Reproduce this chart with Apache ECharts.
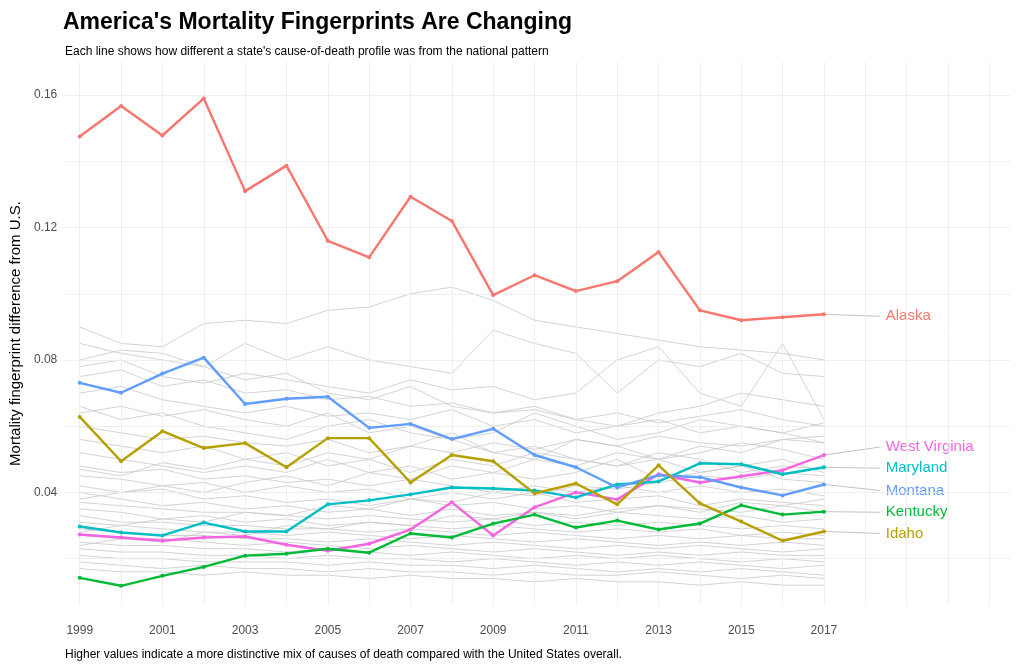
<!DOCTYPE html>
<html><head><meta charset="utf-8">
<script src="https://cdn.jsdelivr.net/npm/echarts@6/dist/echarts.min.js"></script>
<style>html,body{margin:0;background:#fff}#c{width:1024px;height:666px}</style>
</head><body><div id="c"></div>
<script>
const years = [1999,2000,2001,2002,2003,2004,2005,2006,2007,2008,2009,2010,2011,2012,2013,2014,2015,2016,2017]
const highlight = ["Alaska","West Virginia","Maryland","Montana","Kentucky","Idaho"]
const colors = {"Alaska":"#F8766D","Idaho":"#B79F00","Kentucky":"#00BA38","Maryland":"#00BFC4","Montana":"#619CFF","West Virginia":"#F564E3"}
const alaska = [0.1475,0.1567,0.1478,0.159,0.131,0.1387,0.116,0.111,0.1293,0.122,0.0996,0.1056,0.1008,0.1038,0.1126,0.095,0.092,0.0929,0.0938]
const montana = [0.0731,0.0701,0.0759,0.0807,0.0667,0.0683,0.0689,0.0595,0.0607,0.0561,0.0592,0.0513,0.0476,0.0415,0.0452,0.0446,0.0415,0.0391,0.0424]
const idaho = [0.0628,0.0494,0.0585,0.0534,0.0549,0.0476,0.0564,0.0564,0.043,0.0513,0.0494,0.0397,0.0427,0.0364,0.0482,0.0367,0.0312,0.0254,0.0282]
const maryland = [0.0297,0.0279,0.027,0.0309,0.0282,0.0282,0.0364,0.0376,0.0394,0.0415,0.0412,0.0406,0.0385,0.0424,0.0433,0.0488,0.0485,0.0455,0.0476]
const westVirginia = [0.0273,0.0264,0.0254,0.0264,0.0267,0.0242,0.0224,0.0245,0.0288,0.037,0.027,0.0355,0.04,0.0379,0.0455,0.043,0.0449,0.0467,0.0513]
const kentucky = [0.0142,0.0118,0.0148,0.0175,0.0209,0.0215,0.023,0.0218,0.0276,0.0264,0.0306,0.0333,0.0294,0.0315,0.0288,0.0306,0.0361,0.0333,0.0342]
const stateValues = {"Alaska":alaska,"Montana":montana,"Idaho":idaho,"Maryland":maryland,"West Virginia":westVirginia,"Kentucky":kentucky}
// label heights at the right margin
const labelY = {"Alaska":0.0932,"West Virginia":0.0537,"Maryland":0.0473,"Montana":0.0406,"Kentucky":0.034,"Idaho":0.0276}
// other states (grey background)
const others = [
 [0.090,0.085,0.084,0.091,0.092,0.091,0.095,0.096,0.100,0.102,0.098,0.092,0.090,0.088,0.086,0.084,0.083,0.082,0.080],
 [0.080,0.083,0.082,0.078,0.085,0.080,0.084,0.080,0.078,0.076,0.089,0.085,0.082,0.070,0.080,0.078,0.082,0.076,0.075],
 [0.078,0.080,0.075,0.073,0.076,0.074,0.072,0.070,0.074,0.071,0.072,0.068,0.070,0.080,0.084,0.070,0.066,0.085,0.062],
 [0.070,0.072,0.068,0.066,0.064,0.066,0.063,0.064,0.062,0.065,0.060,0.062,0.058,0.060,0.064,0.066,0.070,0.068,0.066],
 [0.066,0.062,0.064,0.060,0.058,0.056,0.060,0.062,0.058,0.056,0.058,0.064,0.060,0.056,0.058,0.062,0.060,0.058,0.061],
 [0.060,0.058,0.056,0.057,0.055,0.054,0.056,0.052,0.054,0.058,0.052,0.050,0.056,0.054,0.050,0.052,0.055,0.053,0.050],
 [0.056,0.054,0.052,0.054,0.050,0.052,0.048,0.050,0.046,0.050,0.048,0.052,0.050,0.048,0.052,0.050,0.046,0.048,0.047],
 [0.052,0.050,0.048,0.046,0.048,0.046,0.050,0.046,0.048,0.044,0.046,0.044,0.046,0.050,0.044,0.046,0.048,0.044,0.043],
 [0.048,0.046,0.047,0.044,0.045,0.043,0.044,0.042,0.044,0.042,0.040,0.042,0.040,0.042,0.040,0.042,0.040,0.041,0.039],
 [0.045,0.044,0.042,0.043,0.040,0.042,0.040,0.041,0.038,0.040,0.038,0.040,0.037,0.038,0.039,0.036,0.038,0.037,0.036],
 [0.042,0.040,0.041,0.038,0.039,0.037,0.038,0.036,0.038,0.036,0.037,0.035,0.036,0.034,0.036,0.035,0.034,0.036,0.034],
 [0.040,0.038,0.036,0.037,0.035,0.036,0.034,0.035,0.033,0.035,0.033,0.034,0.032,0.034,0.033,0.032,0.033,0.031,0.032],
 [0.037,0.036,0.035,0.034,0.034,0.033,0.032,0.033,0.032,0.031,0.032,0.030,0.031,0.030,0.031,0.030,0.029,0.030,0.029],
 [0.035,0.034,0.032,0.033,0.031,0.032,0.030,0.031,0.030,0.029,0.030,0.029,0.028,0.029,0.028,0.029,0.027,0.028,0.027],
 [0.033,0.031,0.031,0.030,0.030,0.029,0.029,0.028,0.029,0.028,0.027,0.028,0.027,0.026,0.027,0.026,0.027,0.026,0.026],
 [0.031,0.030,0.029,0.028,0.028,0.027,0.028,0.027,0.026,0.027,0.026,0.025,0.026,0.025,0.024,0.025,0.024,0.025,0.024],
 [0.029,0.028,0.027,0.027,0.026,0.026,0.025,0.026,0.025,0.024,0.025,0.024,0.023,0.024,0.023,0.024,0.023,0.022,0.023],
 [0.027,0.026,0.026,0.025,0.024,0.025,0.024,0.023,0.024,0.023,0.022,0.023,0.022,0.021,0.022,0.021,0.022,0.021,0.021],
 [0.025,0.024,0.024,0.023,0.023,0.022,0.023,0.022,0.021,0.022,0.021,0.020,0.021,0.020,0.021,0.020,0.019,0.020,0.019],
 [0.023,0.022,0.022,0.021,0.021,0.020,0.021,0.020,0.020,0.019,0.020,0.019,0.018,0.019,0.018,0.019,0.018,0.017,0.018],
 [0.021,0.020,0.020,0.019,0.019,0.019,0.018,0.019,0.018,0.018,0.017,0.018,0.017,0.016,0.017,0.016,0.017,0.016,0.015],
 [0.019,0.018,0.017,0.018,0.017,0.017,0.016,0.017,0.016,0.016,0.015,0.016,0.015,0.015,0.016,0.015,0.014,0.015,0.014],
 [0.017,0.016,0.016,0.015,0.016,0.015,0.015,0.014,0.015,0.014,0.014,0.013,0.014,0.013,0.013,0.012,0.013,0.012,0.012],
 [0.085,0.082,0.080,0.078,0.074,0.076,0.070,0.068,0.072,0.066,0.064,0.066,0.062,0.060,0.062,0.058,0.060,0.058,0.055],
 [0.064,0.066,0.063,0.065,0.062,0.060,0.064,0.058,0.060,0.056,0.052,0.054,0.050,0.048,0.050,0.046,0.048,0.050,0.046],
 [0.038,0.040,0.042,0.040,0.043,0.045,0.042,0.046,0.044,0.048,0.046,0.050,0.048,0.052,0.050,0.054,0.052,0.056,0.055],
 [0.028,0.030,0.032,0.031,0.034,0.033,0.036,0.035,0.038,0.037,0.040,0.039,0.042,0.041,0.043,0.045,0.044,0.046,0.045],
 [0.024,0.026,0.025,0.028,0.027,0.030,0.029,0.031,0.030,0.033,0.032,0.034,0.033,0.035,0.036,0.034,0.037,0.036,0.038],
 [0.047,0.045,0.049,0.047,0.050,0.048,0.052,0.050,0.054,0.052,0.055,0.053,0.056,0.054,0.057,0.055,0.054,0.056,0.057],
 [0.075,0.077,0.072,0.074,0.070,0.071,0.068,0.069,0.066,0.067,0.064,0.065,0.062,0.064,0.061,0.063,0.065,0.062,0.060]
]
const font = "Liberation Sans, Arial, sans-serif"
const series = []
others.forEach(vals => series.push({type:'line', silent:true, symbol:'none', z:1,
  lineStyle:{color:'#c8c8c8', width:0.8}, data: years.map((y,i)=>[y, vals[i]])}))
highlight.forEach(name => {
  const vals = stateValues[name]
  series.push({name, type:'line', z:5, symbol:'circle', symbolSize:4,
    itemStyle:{color:colors[name]}, lineStyle:{color:colors[name], width:2.4},
    data: years.map((y,i)=>[y, vals[i]])})
  series.push({type:'line', z:3, silent:true, symbol:'none',
    lineStyle:{color:'#999', width:0.6},
    data:[[2017, vals[vals.length-1]],[2018.35, labelY[name]]],
    endLabel:{show:true, formatter:name, color:colors[name], fontSize:15, fontFamily:font, distance:6}})
})
// grid lines
series.push({type:'line', data:[], silent:true, z:0, markLine:{silent:true, symbol:'none', label:{show:false},
  lineStyle:{color:'#ebebeb', width:0.8, type:'solid'},
  data:[0.02,0.04,0.06,0.08,0.10,0.12,0.14,0.16].map(v=>({yAxis:v}))}})
series.push({type:'line', data:[], silent:true, z:0, markLine:{silent:true, symbol:'none', label:{show:false},
  lineStyle:{color:'#ebebeb', width:0.8, type:'solid'},
  data:years.concat([2018,2019,2020,2021]).map(y=>({xAxis:y}))}})
const chart = echarts.init(document.getElementById('c'))
chart.setOption({
  animation:false,
  title:[
    {text:"America's Mortality Fingerprints Are Changing", left:58, top:6, textStyle:{fontSize:23, fontWeight:'bold', color:'#000', fontFamily:font}},
    {text:"Each line shows how different a state's cause-of-death profile was from the national pattern", left:60, top:41, textStyle:{fontSize:12, fontWeight:'normal', color:'#000', fontFamily:font}},
    {text:"Higher values indicate a more distinctive mix of causes of death compared with the United States overall.", left:60, top:644, textStyle:{fontSize:12, fontWeight:'normal', color:'#000', fontFamily:font}}
  ],
  grid:{left:60, right:14, top:62, bottom:61},
  xAxis:{type:'value', min:1998.65, max:2021.5, interval:0.05,
    axisLine:{show:false}, axisTick:{show:false},
    splitLine:{show:false},
    axisLabel:{color:'#4d4d4d', fontSize:12, fontFamily:font, margin:20, hideOverlap:false, showMinLabel:false, showMaxLabel:false,
      formatter:v=>{const y=Math.round(v); return (Math.abs(v-y)<1e-4 && y%2===1 && y<=2017)?String(y):''}}},
  yAxis:{type:'value', min:0.006, max:0.170, interval:0.002,
    name:'Mortality fingerprint difference from U.S.', nameLocation:'middle', nameGap:34,
    nameTextStyle:{fontSize:15, color:'#000', fontFamily:font},
    axisLine:{show:false}, axisTick:{show:false}, splitLine:{show:false},
    axisLabel:{color:'#4d4d4d', fontSize:12, fontFamily:font, showMinLabel:false, showMaxLabel:false,
      formatter:v=>{const k=Math.round(v/0.04); return (k>0 && Math.abs(v-k*0.04)<1e-6)?(k*0.04).toFixed(2):''}}},
  series
})
</script></body></html>
